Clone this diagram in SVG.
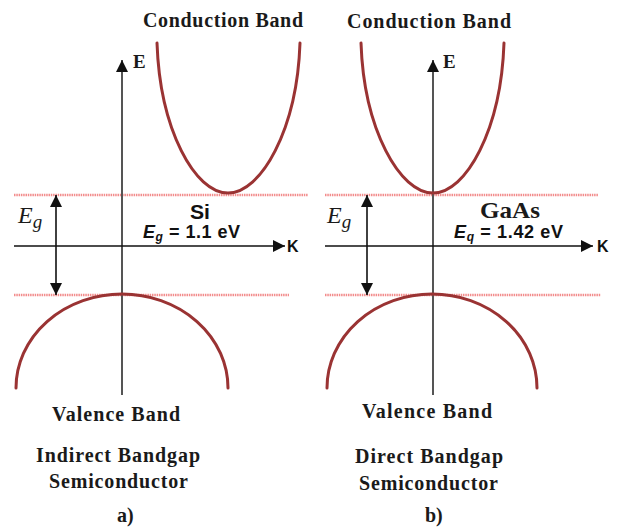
<svg xmlns="http://www.w3.org/2000/svg" width="619" height="529" viewBox="0 0 619 529">
<style>
  .band { fill: none; stroke: #9a3333; stroke-width: 3; stroke-linecap: round; }
  .level { fill: none; stroke: #f28c8c; stroke-width: 2.6; stroke-dasharray: 1.5 0.8; }
  .vaxis { stroke: #555; stroke-width: 2; }
  .haxis { stroke: #111; stroke-width: 1.6; }
  .gap { stroke: #111; stroke-width: 1.6; }
  .lbl { font-family: "Liberation Serif", "Times New Roman", serif; font-weight: bold; fill: #1a1a1a; }
  .mat { font-family: "Liberation Sans", Arial, sans-serif; font-weight: bold; fill: #111; }
  .eg { font-family: "Liberation Serif", "Times New Roman", serif; font-style: italic; fill: #1a1a1a; }
</style>
<defs>
  <marker id="ah" markerUnits="userSpaceOnUse" markerWidth="12" markerHeight="12" viewBox="0 0 10 10" refX="10" refY="5" orient="auto">
    <path d="M0,0 L10,5 L0,10 Z" fill="#111"/>
  </marker>
</defs>

<!-- energy levels -->
<g id="levels">
  <line class="level" x1="14" y1="195" x2="308" y2="195"/>
  <line class="level" x1="14" y1="295" x2="289" y2="295"/>
  <line class="level" x1="325" y1="195" x2="598" y2="195"/>
  <line class="level" x1="325" y1="295" x2="601" y2="295"/>
</g>

<g id="connectors">
  <!-- axes a -->
  <line class="vaxis" x1="122" y1="395" x2="122" y2="60" marker-end="url(#ah)"/>
  <line class="haxis" x1="14" y1="246" x2="285" y2="246" marker-end="url(#ah)"/>
  <!-- axes b -->
  <line class="vaxis" x1="433" y1="395" x2="433" y2="60" marker-end="url(#ah)"/>
  <line class="haxis" x1="325" y1="246" x2="593" y2="246" marker-end="url(#ah)"/>
  <!-- gap arrows -->
  <line class="gap" x1="56" y1="245" x2="56" y2="195" marker-end="url(#ah)"/>
  <line class="gap" x1="56" y1="245" x2="56" y2="295" marker-end="url(#ah)"/>
  <line class="gap" x1="367" y1="245" x2="367" y2="195" marker-end="url(#ah)"/>
  <line class="gap" x1="367" y1="245" x2="367" y2="295" marker-end="url(#ah)"/>
</g>

<g id="conduction-a">
  <path class="band" d="M157,43 C160,130 195,193 228,193 C261,193 297,130 300,43"/>
  <text class="lbl" x="143" y="27" font-size="20" textLength="160" lengthAdjust="spacing">Conduction Band</text>
</g>
<g id="conduction-b">
  <path class="band" d="M361,43 C364,130 400,193 433,193 C466,193 501,130 504,43"/>
  <text class="lbl" x="347" y="28" font-size="20" textLength="164" lengthAdjust="spacing">Conduction Band</text>
</g>

<g id="valence-a">
  <path class="band" d="M16,388 A106,94 0 0 1 228,388"/>
  <text class="lbl" x="52" y="421" font-size="20" textLength="128" lengthAdjust="spacing">Valence Band</text>
</g>
<g id="valence-b">
  <path class="band" d="M327,388 A105,94 0 0 1 537,388"/>
  <text class="lbl" x="362" y="418" font-size="20" textLength="130" lengthAdjust="spacing">Valence Band</text>
</g>

<g id="axis-labels">
  <text class="lbl" x="133" y="68" font-size="19">E</text>
  <text class="lbl" x="443" y="68" font-size="19">E</text>
  <text class="mat" x="287" y="252" font-size="16" font-weight="normal">K</text>
  <text class="mat" x="597" y="252" font-size="16" font-weight="normal">K</text>
</g>

<g id="gap-labels">
  <text class="eg" x="18" y="223" font-size="24">E<tspan dy="5" font-size="19">g</tspan></text>
  <text class="eg" x="327" y="223" font-size="24">E<tspan dy="5" font-size="19">g</tspan></text>
</g>

<g id="material-a">
  <text class="mat" x="190" y="219" font-size="20" textLength="20" lengthAdjust="spacingAndGlyphs">Si</text>
  <text class="mat" x="143" y="238" font-size="18" textLength="97" lengthAdjust="spacing"><tspan font-style="italic">E</tspan><tspan font-style="italic" dy="3" font-size="12">g</tspan><tspan dy="-3"> = 1.1 eV</tspan></text>
</g>
<g id="material-b">
  <text class="lbl" x="480" y="218" font-size="24" textLength="60" lengthAdjust="spacingAndGlyphs">GaAs</text>
  <text class="mat" x="454" y="238" font-size="18" textLength="109" lengthAdjust="spacing"><tspan font-style="italic">E</tspan><tspan font-style="italic" dy="3" font-size="12">q</tspan><tspan dy="-3"> = 1.42 eV</tspan></text>
</g>

<g id="caption-a">
  <text class="lbl" x="36" y="462" font-size="20" textLength="164" lengthAdjust="spacing">Indirect Bandgap</text>
  <text class="lbl" x="49" y="488" font-size="20" textLength="139" lengthAdjust="spacing">Semiconductor</text>
  <text class="lbl" x="117" y="522" font-size="20">a)</text>
</g>
<g id="caption-b">
  <text class="lbl" x="355" y="463" font-size="20" textLength="148" lengthAdjust="spacing">Direct Bandgap</text>
  <text class="lbl" x="359" y="490" font-size="20" textLength="139" lengthAdjust="spacing">Semiconductor</text>
  <text class="lbl" x="425" y="522" font-size="20">b)</text>
</g>
</svg>
